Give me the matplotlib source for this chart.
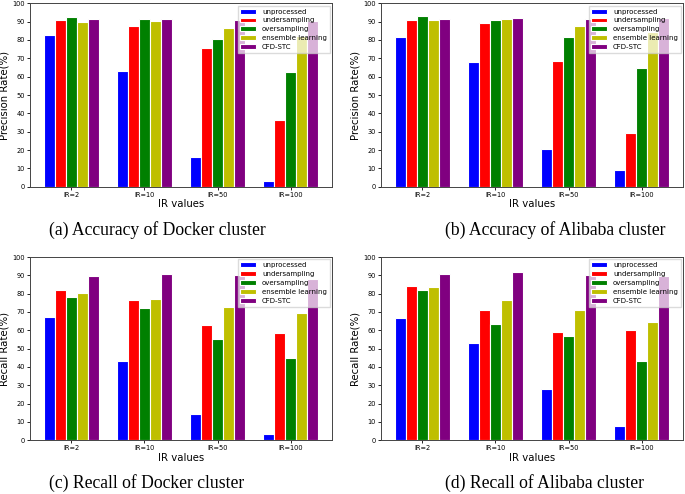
import matplotlib
matplotlib.use("Agg")
import matplotlib.pyplot as plt
import numpy as np

categories = ["IR=2", "IR=10", "IR=50", "IR=100"]
methods = ["unprocessed", "undersampling", "oversampling", "ensemble learning", "CFD-STC"]
colors = ["#0000ff", "#ff0000", "#008000", "#bfbf00", "#800080"]

# Precision, Docker (a)
prec_docker_unprocessed = [82.7, 63.3, 16.0, 2.9]
prec_docker_under = [90.9, 87.5, 75.8, 36.5]
prec_docker_over = [92.4, 91.3, 80.4, 62.7]
prec_docker_ensemble = [90.0, 90.4, 86.5, 82.4]
prec_docker_cfd = [91.3, 91.5, 90.9, 90.4]

# Precision, Alibaba (b)
prec_ali_unprocessed = [81.5, 68.0, 20.5, 9.1]
prec_ali_under = [90.7, 89.1, 68.4, 29.1]
prec_ali_over = [93.3, 90.7, 81.5, 64.9]
prec_ali_ensemble = [91.1, 91.5, 87.5, 84.5]
prec_ali_cfd = [91.5, 92.2, 91.5, 92.2]

# Recall, Docker (c)
rec_docker_unprocessed = [67.5, 43.5, 14.2, 3.3]
rec_docker_under = [82.0, 76.4, 62.7, 58.4]
rec_docker_over = [78.4, 72.2, 55.5, 44.9]
rec_docker_ensemble = [80.4, 77.3, 72.7, 69.5]
rec_docker_cfd = [89.5, 90.5, 90.0, 88.2]

# Recall, Alibaba (d)
rec_ali_unprocessed = [66.7, 52.9, 28.2, 7.6]
rec_ali_under = [84.0, 71.3, 58.9, 60.0]
rec_ali_over = [82.2, 63.6, 56.7, 43.5]
rec_ali_ensemble = [83.8, 76.5, 70.9, 64.4]
rec_ali_cfd = [90.7, 91.6, 90.2, 89.5]

panels = [
    ([prec_docker_unprocessed, prec_docker_under, prec_docker_over, prec_docker_ensemble, prec_docker_cfd],
     "Precision Rate(%)", "(a) Accuracy of Docker cluster"),
    ([prec_ali_unprocessed, prec_ali_under, prec_ali_over, prec_ali_ensemble, prec_ali_cfd],
     "Precision Rate(%)", "(b) Accuracy of Alibaba cluster"),
    ([rec_docker_unprocessed, rec_docker_under, rec_docker_over, rec_docker_ensemble, rec_docker_cfd],
     "Recall Rate(%)", "(c) Recall of Docker cluster"),
    ([rec_ali_unprocessed, rec_ali_under, rec_ali_over, rec_ali_ensemble, rec_ali_cfd],
     "Recall Rate(%)", "(d) Recall of Alibaba cluster"),
]

W, H = 685, 494
fig = plt.figure(figsize=(W / 100, H / 100), dpi=100)

# axes rectangles in pixels: left, top, right, bottom
rects = [(30, 3.3, 332, 186.7), (381, 3.3, 683, 186.7),
         (30, 257, 332, 440.3), (381, 257, 683, 440.3)]
caption_pos = [(49, 230), (445, 230), (49, 483), (445, 483)]

x = np.arange(len(categories))
width = 0.15
for (series, ylabel, caption), (l, t, r, b), (cx, cy) in zip(panels, rects, caption_pos):
    ax = fig.add_axes([l / W, 1 - b / H, (r - l) / W, (b - t) / H])
    for i, (vals, name, c) in enumerate(zip(series, methods, colors)):
        ax.bar(x + (i - 2) * width, vals, width, color=c, edgecolor="white",
               linewidth=0.8, label=name)
    ax.set_ylim(0, 100)
    ax.set_yticks(np.arange(0, 101, 10))
    ax.set_xticks(x)
    ax.set_xticklabels(categories)
    ax.tick_params(labelsize=4.8, length=2, width=0.6, pad=1.5)
    ax.set_ylabel(ylabel, fontsize=7.3, labelpad=2)
    ax.set_xlabel("IR values", fontsize=7.3, labelpad=1)
    for s in ax.spines.values():
        s.set_linewidth(0.7)
        s.set_color("#444444")
    ax.legend(loc="upper right", fontsize=5.0, handlelength=2.3, borderaxespad=0.35,
              labelspacing=0.42, borderpad=0.4, fancybox=False, framealpha=0.7,
              edgecolor="#cccccc")
    fig.text(cx / W, 1 - cy / H, caption, ha="left", va="center",
             family="Liberation Serif", fontsize=12.7)

fig.savefig("out.png", dpi=100)
